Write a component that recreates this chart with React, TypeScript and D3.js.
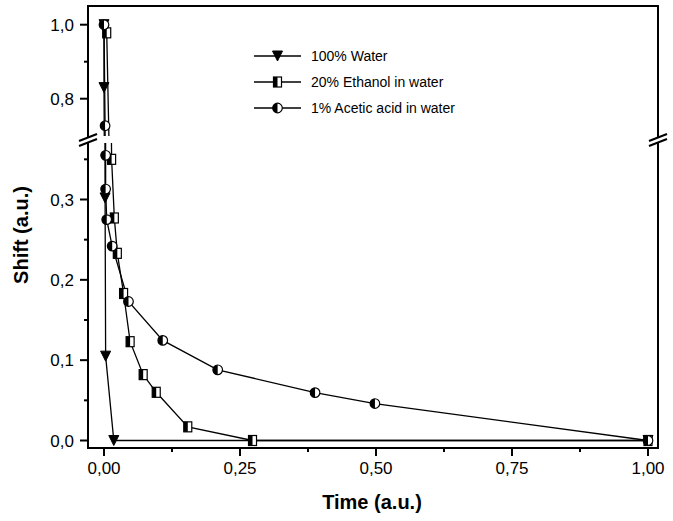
import React from 'react'
import { scaleLinear, line } from 'd3'

// time (a.u.) and shift (a.u.)
const waterTime = [0, 0, 0.002, 0.003, 0.018, 1.0]
const waterShift = [1.0, 0.83, 0.302, 0.105, 0, 0]

const ethanolTime = [0.005, 0.014, 0.019, 0.0245, 0.036, 0.048, 0.072, 0.096, 0.154, 0.273, 1.0]
const ethanolShift = [0.978, 0.35, 0.277, 0.233, 0.183, 0.123, 0.082, 0.06, 0.017, 0, 0]

const aceticTime = [0, 0.002, 0.003, 0.003, 0.005, 0.015, 0.045, 0.108, 0.209, 0.388, 0.498, 1.0]
const aceticShift = [1.0, 0.727, 0.355, 0.313, 0.275, 0.242, 0.173, 0.1246, 0.088, 0.0596, 0.046, 0]

const seriesNames = ['100% Water', '20% Ethanol in water', '1% Acetic acid in water']
const xTicks = [0, 0.25, 0.5, 0.75, 1.0]
const xMinor = [0.125, 0.375, 0.625, 0.875]
const yLowTicks = [0, 0.1, 0.2, 0.3]
const yLowMinor = [0.05, 0.15, 0.25, 0.35]
const yHighTicks = [0.8, 1.0]
const yHighMinor = [0.9]

const W = 673
const H = 521
const left = 88
const right = 658
const top = 6
const bottom = 448
const breakY = 140

const x = scaleLinear().domain([0, 1]).range([104, 648])
const yLow = scaleLinear().domain([0, 0.3]).range([440.5, 199.5])
const yHigh = scaleLinear().domain([0.8, 1.0]).range([98.7, 24.7])

const lowMax = yLow.invert(143)
const highMin = yHigh.invert(136)

const font = 'Arial, "Liberation Sans", Helvetica, sans-serif'
const comma = (v: number, d: number) => v.toFixed(d).replace('.', ',')

type Kind = 'tri' | 'sq' | 'circ'

function Marker({ kind, cx, cy }: { kind: Kind; cx: number; cy: number }) {
  if (kind === 'tri') {
    return <path d={`M${cx - 5},${cy - 5}L${cx + 5},${cy - 5}L${cx},${cy + 5}Z`} fill="#000" stroke="#000" strokeWidth={1} />
  }
  if (kind === 'sq') {
    return (
      <g>
        <rect x={cx - 4} y={cy - 5} width={8} height={10} fill="#fff" stroke="#000" strokeWidth={1.2} />
        <rect x={cx - 4} y={cy - 5} width={4} height={10} fill="#000" />
      </g>
    )
  }
  return (
    <g>
      <circle cx={cx} cy={cy} r={4.8} fill="#fff" stroke="#000" strokeWidth={1.2} />
      <path d={`M${cx},${cy - 4.8}A4.8,4.8 0 0 0 ${cx},${cy + 4.8}Z`} fill="#000" />
    </g>
  )
}

const series: { t: number[]; v: number[]; kind: Kind }[] = [
  { t: waterTime, v: waterShift, kind: 'tri' },
  { t: ethanolTime, v: ethanolShift, kind: 'sq' },
  { t: aceticTime, v: aceticShift, kind: 'circ' },
]

export default function App() {
  const panels = [
    { y: yHigh, id: 'clipHigh', y0: top, y1: 136, ok: (v: number) => v >= highMin },
    { y: yLow, id: 'clipLow', y0: 143, y1: bottom, ok: (v: number) => v <= lowMax },
  ]

  const breakMark = (bx: number) => (
    <g key={bx}>
      <polygon points={`${bx - 9},${breakY + 1} ${bx + 9},${breakY - 6} ${bx + 9},${breakY - 1} ${bx - 9},${breakY + 6}`} fill="#fff" />
      <line x1={bx - 9} y1={breakY + 1} x2={bx + 9} y2={breakY - 6} stroke="#000" strokeWidth={2} />
      <line x1={bx - 9} y1={breakY + 6} x2={bx + 9} y2={breakY - 1} stroke="#000" strokeWidth={2} />
    </g>
  )

  return (
    <svg width={W} height={H} style={{ position: 'absolute', left: 0, top: 0, background: '#fff' }}>
      <defs>
        {panels.map(p => (
          <clipPath id={p.id} key={p.id}>
            <rect x={left} y={p.y0} width={right - left} height={p.y1 - p.y0} />
          </clipPath>
        ))}
      </defs>
      <rect width={W} height={H} fill="#fff" />

      {/* data */}
      {panels.map(p => (
        <g key={p.id} clipPath={`url(#${p.id})`}>
          {series.map((s, i) => {
            const pts = s.t.map((t, j) => [t, s.v[j]] as [number, number])
            const path = line<[number, number]>().x(d => x(d[0])).y(d => p.y(d[1]))(pts) || ''
            return <path key={i} d={path} fill="none" stroke="#000" strokeWidth={1.3} />
          })}
        </g>
      ))}
      {panels.map(p => (
        <g key={p.id + 'm'}>
          {series.map((s, i) =>
            s.t.map((t, j) =>
              p.ok(s.v[j]) ? <Marker key={i + '-' + j} kind={s.kind} cx={x(t)} cy={p.y(s.v[j])} /> : null
            )
          )}
        </g>
      ))}

      {/* frame */}
      <rect x={left} y={top} width={right - left} height={bottom - top} fill="none" stroke="#000" strokeWidth={2} />
      {breakMark(left)}
      {breakMark(right)}

      {/* x axis */}
      {xTicks.map(t => (
        <g key={t}>
          <line x1={x(t)} x2={x(t)} y1={bottom} y2={bottom + 8} stroke="#000" strokeWidth={2} />
          <text x={x(t)} y={474} textAnchor="middle" fontFamily={font} fontSize={17}>{comma(t, 2)}</text>
        </g>
      ))}
      {xMinor.map(t => (
        <line key={t} x1={x(t)} x2={x(t)} y1={bottom} y2={bottom + 4} stroke="#000" strokeWidth={2} />
      ))}

      {/* y axis */}
      {[...yLowTicks.map(v => yLow(v)), ...yHighTicks.map(v => yHigh(v))].map((py, i) => (
        <line key={i} x1={left - 8} x2={left} y1={py} y2={py} stroke="#000" strokeWidth={2} />
      ))}
      {[...yLowMinor.map(v => yLow(v)), ...yHighMinor.map(v => yHigh(v))].map((py, i) => (
        <line key={i} x1={left - 4} x2={left} y1={py} y2={py} stroke="#000" strokeWidth={2} />
      ))}
      {yLowTicks.map(v => (
        <text key={v} x={74} y={yLow(v) + 6} textAnchor="end" fontFamily={font} fontSize={17}>{comma(v, 1)}</text>
      ))}
      {yHighTicks.map(v => (
        <text key={v} x={74} y={yHigh(v) + 6} textAnchor="end" fontFamily={font} fontSize={17}>{comma(v, 1)}</text>
      ))}

      {/* titles */}
      <text x={372} y={509} textAnchor="middle" fontFamily={font} fontSize={20} fontWeight="bold">Time (a.u.)</text>
      <text transform="translate(28,235) rotate(-90)" textAnchor="middle" fontFamily={font} fontSize={20} fontWeight="bold">Shift (a.u.)</text>

      {/* legend */}
      {seriesNames.map((name, i) => {
        const ly = 56 + i * 26
        return (
          <g key={name}>
            <line x1={254} x2={301} y1={ly} y2={ly} stroke="#000" strokeWidth={1.3} />
            <Marker kind={series[i].kind} cx={277.5} cy={ly} />
            <text x={311} y={ly + 5} fontFamily={font} fontSize={14}>{name}</text>
          </g>
        )
      })}
    </svg>
  )
}
